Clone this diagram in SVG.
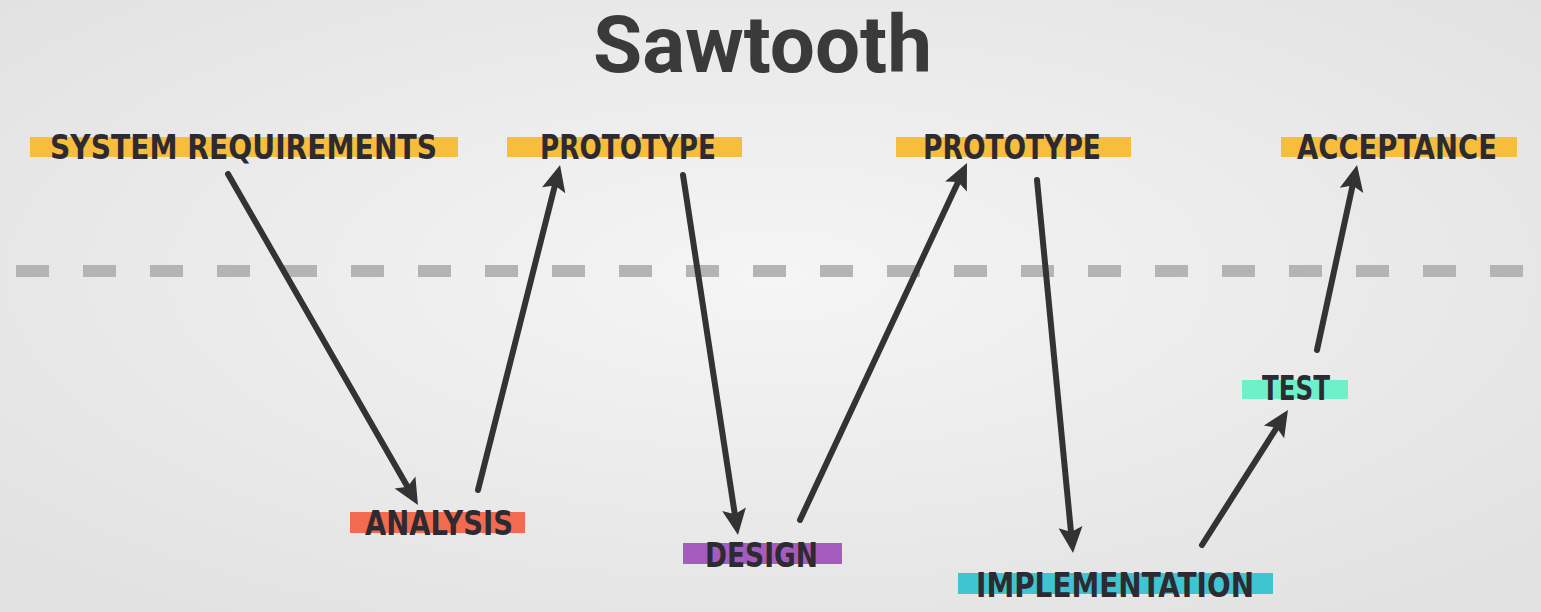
<svg xmlns="http://www.w3.org/2000/svg" width="1541" height="612" viewBox="0 0 1541 612">
<defs>
<radialGradient id="bg" cx="50%" cy="45%" r="70%">
<stop offset="0" stop-color="#f5f5f5"/>
<stop offset="1" stop-color="#e1e1e1"/>
</radialGradient>
<marker id="ah" markerUnits="userSpaceOnUse" markerWidth="30" markerHeight="30" refX="5" refY="12" orient="auto" overflow="visible">
<path d="M0,0 L26,12 L0,24 L5,12 Z" fill="#333335"/>
</marker>
<style>
.lbl{font-family:"DejaVu Sans Condensed","DejaVu Sans",sans-serif;font-weight:bold;font-size:34px;fill:#2d2b31}
.title{font-family:Roboto,"DejaVu Sans",sans-serif;font-weight:700;font-size:80px;fill:#3a3a3a}
.arr{stroke:#333335;stroke-width:6;stroke-linecap:round;fill:none;marker-end:url(#ah)}
.y{fill:#f7bd3c}
</style>
</defs>
<rect x="0" y="0" width="1541" height="612" fill="url(#bg)"/>
<text class="title" x="593" y="72" textLength="339" lengthAdjust="spacingAndGlyphs">Sawtooth</text>
<line x1="16" y1="271" x2="1525" y2="271" stroke="#b4b4b4" stroke-width="12" stroke-dasharray="33 34"/>
<g id="sysreq"><rect class="y" x="30" y="137" width="428" height="20"/><text class="lbl" x="50" y="159" textLength="387" lengthAdjust="spacingAndGlyphs">SYSTEM REQUIREMENTS</text></g>
<g id="proto1"><rect class="y" x="507" y="137" width="235" height="20"/><text class="lbl" x="540" y="159" textLength="176" lengthAdjust="spacingAndGlyphs">PROTOTYPE</text></g>
<g id="proto2"><rect class="y" x="896" y="137" width="235" height="20"/><text class="lbl" x="923" y="159" textLength="178" lengthAdjust="spacingAndGlyphs">PROTOTYPE</text></g>
<g id="accept"><rect class="y" x="1281" y="137" width="236" height="20"/><text class="lbl" x="1297" y="159" textLength="200" lengthAdjust="spacingAndGlyphs">ACCEPTANCE</text></g>
<g id="analysis"><rect fill="#f26a4f" x="350" y="512" width="175" height="21"/><text class="lbl" x="365" y="535" textLength="148" lengthAdjust="spacingAndGlyphs">ANALYSIS</text></g>
<g id="design"><rect fill="#a65cbf" x="683" y="543" width="159" height="21"/><text class="lbl" x="705" y="567" textLength="113" lengthAdjust="spacingAndGlyphs">DESIGN</text></g>
<g id="impl"><rect fill="#3fc4d2" x="958" y="573" width="315" height="21"/><text class="lbl" x="976" y="597" textLength="278" lengthAdjust="spacingAndGlyphs">IMPLEMENTATION</text></g>
<g id="test"><rect fill="#6ff0c9" x="1242" y="380" width="106" height="19"/><text class="lbl" x="1262" y="400" textLength="68" lengthAdjust="spacingAndGlyphs">TEST</text></g>
<g id="connectors">
<line class="arr" x1="228" y1="174" x2="407.5" y2="486.8"/>
<line class="arr" x1="478" y1="490" x2="554.9" y2="185.4"/>
<line class="arr" x1="683" y1="175" x2="734.8" y2="514.2"/>
<line class="arr" x1="800" y1="520" x2="958.1" y2="182"/>
<line class="arr" x1="1037" y1="180" x2="1071" y2="532.1"/>
<line class="arr" x1="1202" y1="545" x2="1276.7" y2="427.7"/>
<line class="arr" x1="1317" y1="350" x2="1352.6" y2="185.5"/>
</g>
</svg>
